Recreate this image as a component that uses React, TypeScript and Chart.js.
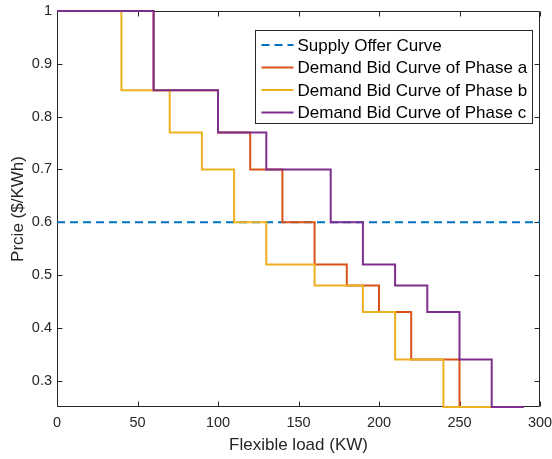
import React, { useEffect, useRef } from 'react';
import { Chart, registerables } from 'chart.js';

Chart.register(...registerables);

// ---- data ----
const supplyX = [0, 300];
const supplyY = [0.6, 0.6];

const phaseAX = [0, 60, 100, 120, 140, 160, 180, 200, 220, 250, 270];
const phaseAY = [1, 0.85, 0.77, 0.7, 0.6, 0.52, 0.48, 0.43, 0.34, 0.25, 0.25];

const phaseBX = [0, 40, 70, 90, 110, 130, 160, 190, 210, 240, 270];
const phaseBY = [1, 0.85, 0.77, 0.7, 0.6, 0.52, 0.48, 0.43, 0.34, 0.25, 0.25];

const phaseCX = [0, 60, 100, 130, 170, 190, 210, 230, 250, 270, 290];
const phaseCY = [1, 0.85, 0.77, 0.7, 0.6, 0.52, 0.48, 0.43, 0.34, 0.25, 0.25];

const seriesLabels = [
  'Supply Offer Curve',
  'Demand Bid Curve of Phase a',
  'Demand Bid Curve of Phase b',
  'Demand Bid Curve of Phase c',
];

const xTicks = [0, 50, 100, 150, 200, 250, 300];
const yTicks = [0.3, 0.4, 0.5, 0.6, 0.7, 0.8, 0.9, 1];

const xTitle = 'Flexible load (KW)';
const yTitle = 'Prcie ($/KWh)';

const FONT = "'Liberation Sans', Arial, Helvetica, sans-serif";
const AXIS_COLOR = '#262626';

const zip = (xs: number[], ys: number[]) => xs.map((x, i) => ({ x, y: ys[i] }));

const framePlugin = {
  id: 'matlabFrame',
  beforeDatasetsDraw(chart: any) {
    const { ctx, chartArea, scales } = chart;
    const l = Math.round(chartArea.left) + 0.5;
    const r = Math.round(chartArea.right) - 0.5;
    const t = Math.round(chartArea.top) + 0.5;
    const b = Math.round(chartArea.bottom) - 0.5;
    const tl = 5;
    ctx.save();
    ctx.strokeStyle = AXIS_COLOR;
    ctx.lineWidth = 1;
    ctx.beginPath();
    ctx.rect(l, t, r - l, b - t);
    for (const v of xTicks) {
      const px = Math.round(scales.x.getPixelForValue(v)) + 0.5;
      ctx.moveTo(px, b);
      ctx.lineTo(px, b - tl);
      ctx.moveTo(px, t);
      ctx.lineTo(px, t + tl);
    }
    for (const v of yTicks) {
      const py = Math.round(scales.y.getPixelForValue(v)) + 0.5;
      ctx.moveTo(l, py);
      ctx.lineTo(l + tl, py);
      ctx.moveTo(r, py);
      ctx.lineTo(r - tl, py);
    }
    ctx.stroke();
    ctx.restore();
  },
};

const legendPlugin = {
  id: 'matlabLegend',
  afterDraw(chart: any) {
    const { ctx, chartArea } = chart;
    const ds = chart.data.datasets;
    ctx.save();
    ctx.font = `17px ${FONT}`;
    let maxW = 0;
    for (const d of ds) maxW = Math.max(maxW, ctx.measureText(d.label).width);
    const right = Math.round(chartArea.right) - 7.5;
    const top = Math.round(chartArea.top) + 19.5;
    const left = Math.round(right - (43 + maxW + 5)) + 0.5;
    const rowH = 22.5;
    const h = 93;
    ctx.fillStyle = '#ffffff';
    ctx.fillRect(left, top, right - left, h);
    ctx.strokeStyle = AXIS_COLOR;
    ctx.lineWidth = 1;
    ctx.strokeRect(left, top, right - left, h);
    ds.forEach((d: any, i: number) => {
      const cy = top + 14.5 + i * rowH;
      ctx.beginPath();
      ctx.strokeStyle = d.borderColor;
      ctx.lineWidth = 2;
      ctx.setLineDash(d.borderDash || []);
      ctx.moveTo(left + 6, cy);
      ctx.lineTo(left + 38, cy);
      ctx.stroke();
      ctx.setLineDash([]);
      ctx.fillStyle = '#000000';
      ctx.textBaseline = 'middle';
      ctx.textAlign = 'left';
      ctx.fillText(d.label, left + 42, cy + 1);
    });
    ctx.restore();
  },
};

export default function App() {
  const ref = useRef<HTMLCanvasElement | null>(null);

  useEffect(() => {
    if (!ref.current) return;
    const common = {
      showLine: true,
      pointRadius: 0,
      pointHoverRadius: 0,
      borderWidth: 2,
      fill: false,
      clip: 4,
      stepped: 'before' as const,
    };
    const chart = new Chart(ref.current, {
      type: 'scatter',
      data: {
        datasets: [
          {
            ...common,
            label: seriesLabels[0],
            data: zip(supplyX, supplyY),
            borderColor: '#0072BD',
            borderDash: [8, 5],
            stepped: false,
            order: 3,
          },
          {
            ...common,
            label: seriesLabels[1],
            data: zip(phaseAX, phaseAY),
            borderColor: '#D95319',
            order: 2,
          },
          {
            ...common,
            label: seriesLabels[2],
            data: zip(phaseBX, phaseBY),
            borderColor: '#EDB120',
            order: 1,
          },
          {
            ...common,
            label: seriesLabels[3],
            data: zip(phaseCX, phaseCY),
            borderColor: '#7E2F8E',
            order: 0,
          },
        ],
      },
      options: {
        animation: false,
        responsive: false,
        events: [],
        layout: { padding: { left: 0, right: 12, top: 11, bottom: 0 } },
        plugins: {
          legend: { display: false },
          tooltip: { enabled: false },
        },
        scales: {
          x: {
            type: 'linear',
            min: 0,
            max: 300,
            grid: { display: false, drawTicks: false },
            border: { display: false },
            afterBuildTicks: (s: any) => {
              s.ticks = xTicks.map((v) => ({ value: v }));
            },
            afterFit: (s: any) => {
              s.height = 52;
              s.paddingLeft = 0;
              s.paddingRight = 0;
            },
            ticks: {
              padding: 7,
              maxRotation: 0,
              autoSkip: false,
              color: AXIS_COLOR,
              font: { family: FONT, size: 14.5 },
              callback: (v: any) => String(v),
            },
            title: {
              display: true,
              text: xTitle,
              color: AXIS_COLOR,
              font: { family: FONT, size: 17 },
              padding: { top: 0, bottom: 3 },
            },
          },
          y: {
            type: 'linear',
            min: 0.25,
            max: 1,
            grid: { display: false, drawTicks: false },
            border: { display: false },
            afterBuildTicks: (s: any) => {
              s.ticks = yTicks.map((v) => ({ value: v }));
            },
            afterFit: (s: any) => {
              s.width = 57;
              s.paddingTop = 0;
              s.paddingBottom = 0;
            },
            ticks: {
              padding: 5,
              autoSkip: false,
              color: AXIS_COLOR,
              font: { family: FONT, size: 14.5 },
              callback: (v: any) => String(Math.round(v * 10) / 10),
            },
            title: {
              display: true,
              text: yTitle,
              color: AXIS_COLOR,
              font: { family: FONT, size: 17 },
              padding: { top: 8, bottom: 0 },
            },
          },
        },
      },
      plugins: [framePlugin, legendPlugin],
    } as any);
    return () => chart.destroy();
  }, []);

  return (
    <div style={{ position: 'absolute', left: 0, top: 0, width: 552, height: 459, background: '#fff' }}>
      <canvas ref={ref} width={552} height={459} style={{ width: 552, height: 459, display: 'block' }} />
    </div>
  );
}
